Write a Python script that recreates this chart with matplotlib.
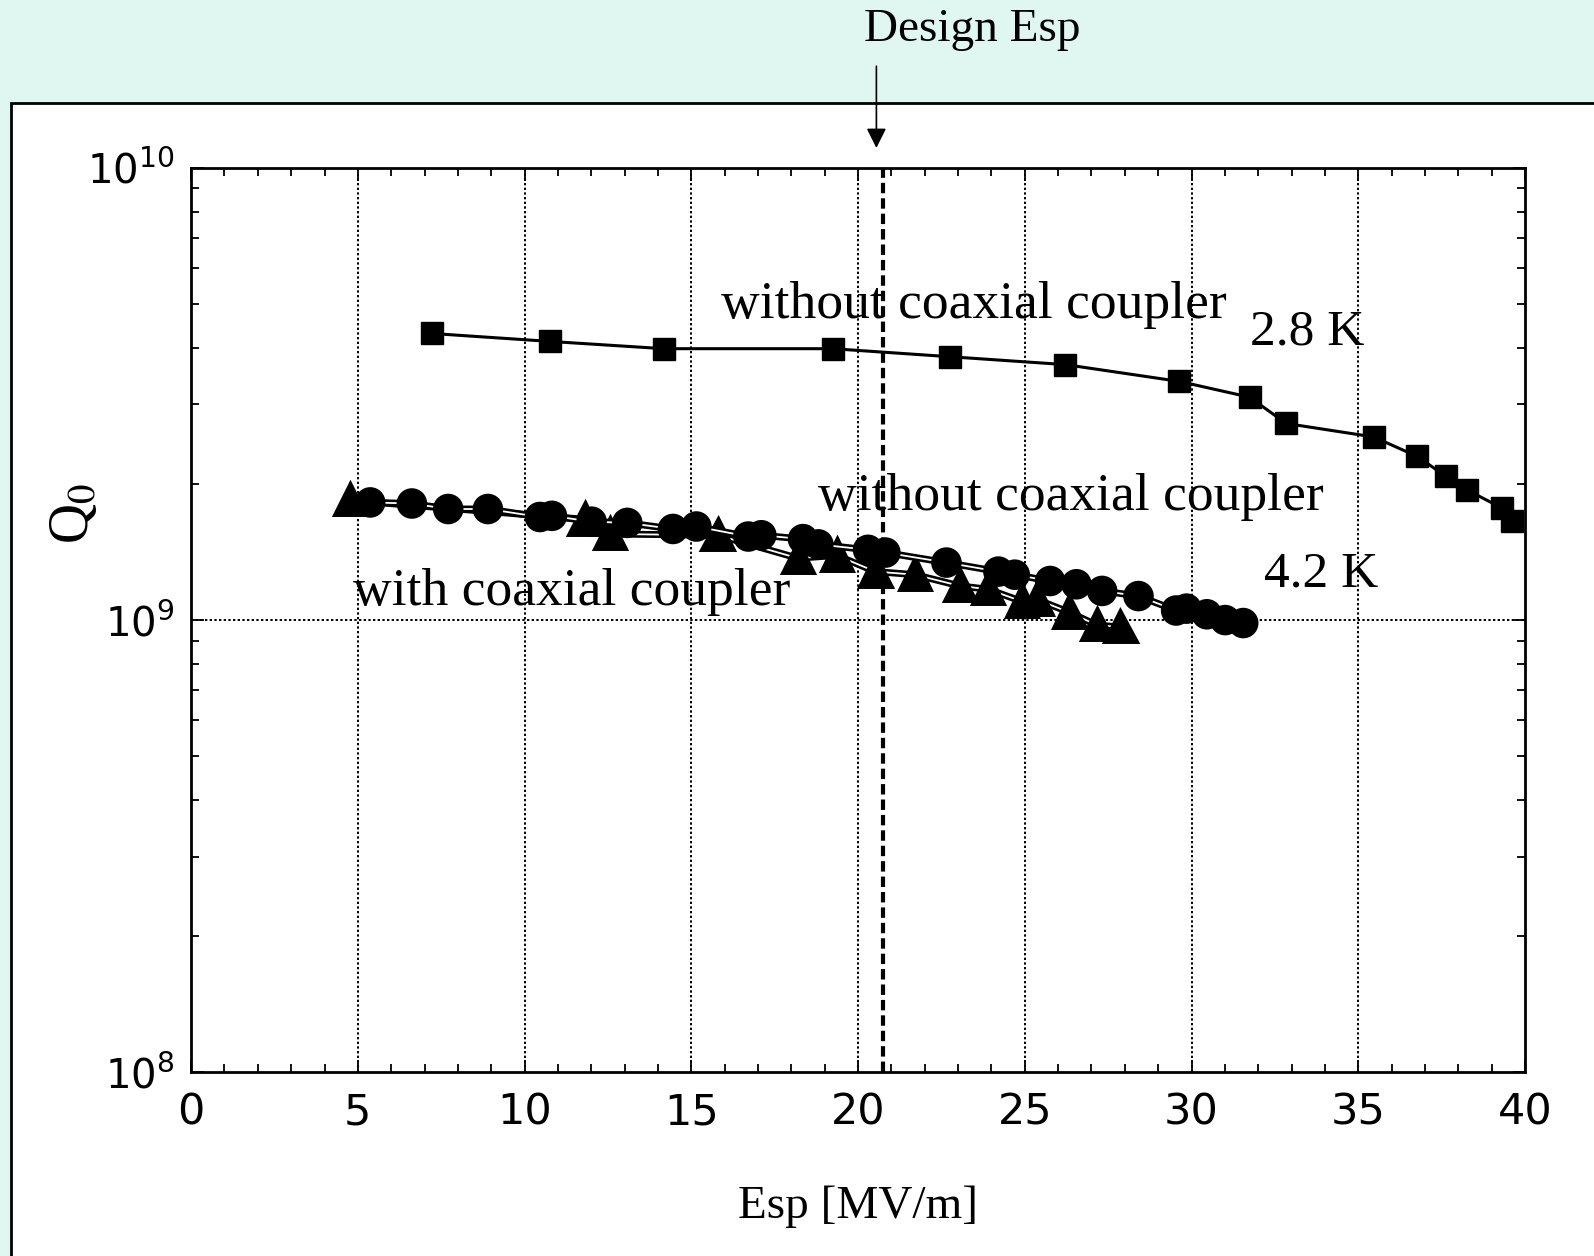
import matplotlib
matplotlib.use("Agg")
import matplotlib.pyplot as plt
import matplotlib.patheffects as pe
from matplotlib.patches import Rectangle
from matplotlib.ticker import MultipleLocator, LogLocator, NullFormatter

plt.rcParams['mathtext.fontset'] = 'stix'

# 2.8 K, without coaxial coupler (squares)
esp_28k = [7.23, 10.76, 14.18, 19.24, 22.77, 26.22, 29.63, 31.74, 32.84,
           35.46, 36.77, 37.62, 38.26, 39.30, 39.60]
q0_28k = [4.30e9, 4.13e9, 3.98e9, 3.98e9, 3.82e9, 3.67e9, 3.37e9, 3.11e9, 2.72e9,
          2.54e9, 2.30e9, 2.08e9, 1.94e9, 1.77e9, 1.66e9]

# 4.2 K, without coaxial coupler (circles)
esp_42k = [5.37, 6.62, 7.71, 8.90, 10.46, 10.82, 12.01, 13.08, 14.45, 15.15,
           16.71, 17.10, 18.35, 18.81, 20.30, 20.82, 22.65, 24.21, 24.70, 25.76,
           26.55, 27.32, 28.41, 29.54, 29.85, 30.46, 31.01, 31.55]
q0_42k = [1.82e9, 1.81e9, 1.76e9, 1.76e9, 1.69e9, 1.70e9, 1.65e9, 1.64e9, 1.59e9, 1.61e9,
          1.53e9, 1.54e9, 1.51e9, 1.47e9, 1.43e9, 1.41e9, 1.34e9, 1.28e9, 1.26e9, 1.22e9,
          1.20e9, 1.16e9, 1.13e9, 1.05e9, 1.06e9, 1.03e9, 1.00e9, 0.985e9]

# 4.2 K, with coaxial coupler (triangles)
esp_coax = [4.76, 11.80, 12.56, 15.79, 18.20, 19.36, 20.52, 21.71, 23.05, 23.90,
            24.91, 25.37, 26.34, 27.16, 27.87]
q0_coax = [1.84e9, 1.67e9, 1.55e9, 1.54e9, 1.37e9, 1.39e9, 1.28e9, 1.26e9, 1.19e9, 1.17e9,
           1.10e9, 1.11e9, 1.04e9, 0.975e9, 0.965e9]

design_esp = 20.75

serif = ['Liberation Serif', 'DejaVu Serif']
sans = ['DejaVu Sans']

fig = plt.figure(figsize=(15.94, 12.56), dpi=100)
fig.patch.set_facecolor('#e0f6f1')
fig.patches.append(Rectangle((11 / 1594, -0.01), 1.0, 0.01 + 1 - 103 / 1256,
                             transform=fig.transFigure, facecolor='white',
                             edgecolor='black', linewidth=2, zorder=-10))

ax = fig.add_axes([0.1199, 0.1461, 0.8368, 0.7204])
ax.set_yscale('log')
ax.set_xlim(0, 40)
ax.set_ylim(1e8, 1e10)

# grid
for gx in [5, 10, 15, 20, 25, 30, 35]:
    ax.axvline(gx, color='black', linestyle=(0, (1.2, 1.2)), linewidth=1.4, zorder=1)
ax.axhline(1e9, color='black', linestyle=(0, (1.2, 1.2)), linewidth=1.4, zorder=1)
ax.axvline(design_esp, color='black', linestyle=(0, (2.5, 1.2)), linewidth=3, zorder=1)

double = [pe.Stroke(linewidth=5, foreground='black'), pe.Normal()]
ax.plot(esp_coax, q0_coax, color='white', linewidth=1.3, path_effects=double,
        marker='^', markersize=19, markerfacecolor='black', markeredgecolor='black', zorder=3)
ax.plot(esp_42k, q0_42k, color='white', linewidth=1.3, path_effects=double,
        marker='o', markersize=17, markerfacecolor='black', markeredgecolor='black', zorder=3)
ax.plot(esp_28k, q0_28k, color='black', linewidth=2.2,
        marker='s', markersize=16, zorder=3)

# annotations
ax.text(15.89, 4.98e9, 'without coaxial coupler', family=serif, fontsize=38.5, va='center', ha='left')
ax.text(31.74, 4.33e9, '2.8 K', family=serif, fontsize=37, va='center', ha='left')
ax.text(18.81, 1.87e9, 'without coaxial coupler', family=serif, fontsize=38.5, va='center', ha='left')
ax.text(32.16, 1.26e9, '4.2 K', family=serif, fontsize=37, va='center', ha='left')
ax.text(4.85, 1.156e9, 'with coaxial coupler', family=serif, fontsize=38.5, va='center', ha='left')

ax.annotate('', xy=(20.55, 1.09e10), xytext=(20.55, 1.7e10),
            annotation_clip=False,
            arrowprops=dict(arrowstyle='-|>', color='black', linewidth=1.2,
                            mutation_scale=30))
fig.text(864 / 1594, 1 - 30 / 1256, 'Design Esp', family=serif, fontsize=34,
         ha='left', va='center')

# axes styling
ax.xaxis.set_major_locator(MultipleLocator(5))
ax.xaxis.set_minor_locator(MultipleLocator(1))
ax.yaxis.set_major_locator(LogLocator(base=10, numticks=5))
ax.yaxis.set_minor_locator(LogLocator(base=10, subs=range(2, 10), numticks=20))
ax.yaxis.set_minor_formatter(NullFormatter())
ax.tick_params(which='both', direction='in', top=True, right=True, width=1.3)
ax.tick_params(which='major', length=9)
ax.tick_params(which='minor', length=6)
ax.tick_params(axis='x', which='major', pad=14, labelsize=31)
ax.tick_params(axis='y', which='major', pad=12, labelsize=29)
for lab in ax.get_xticklabels() + ax.get_yticklabels():
    lab.set_family(sans)
for s in ax.spines.values():
    s.set_linewidth(2)

ax.set_xlabel('Esp [MV/m]', family=serif, fontsize=34)
ax.xaxis.set_label_coords(0.5, -0.125)
ax.set_ylabel('Q$_0$', family=serif, fontsize=40)
ax.yaxis.set_label_coords(-0.068, 0.618)

fig.savefig('out.png', dpi=100, facecolor=fig.get_facecolor())
